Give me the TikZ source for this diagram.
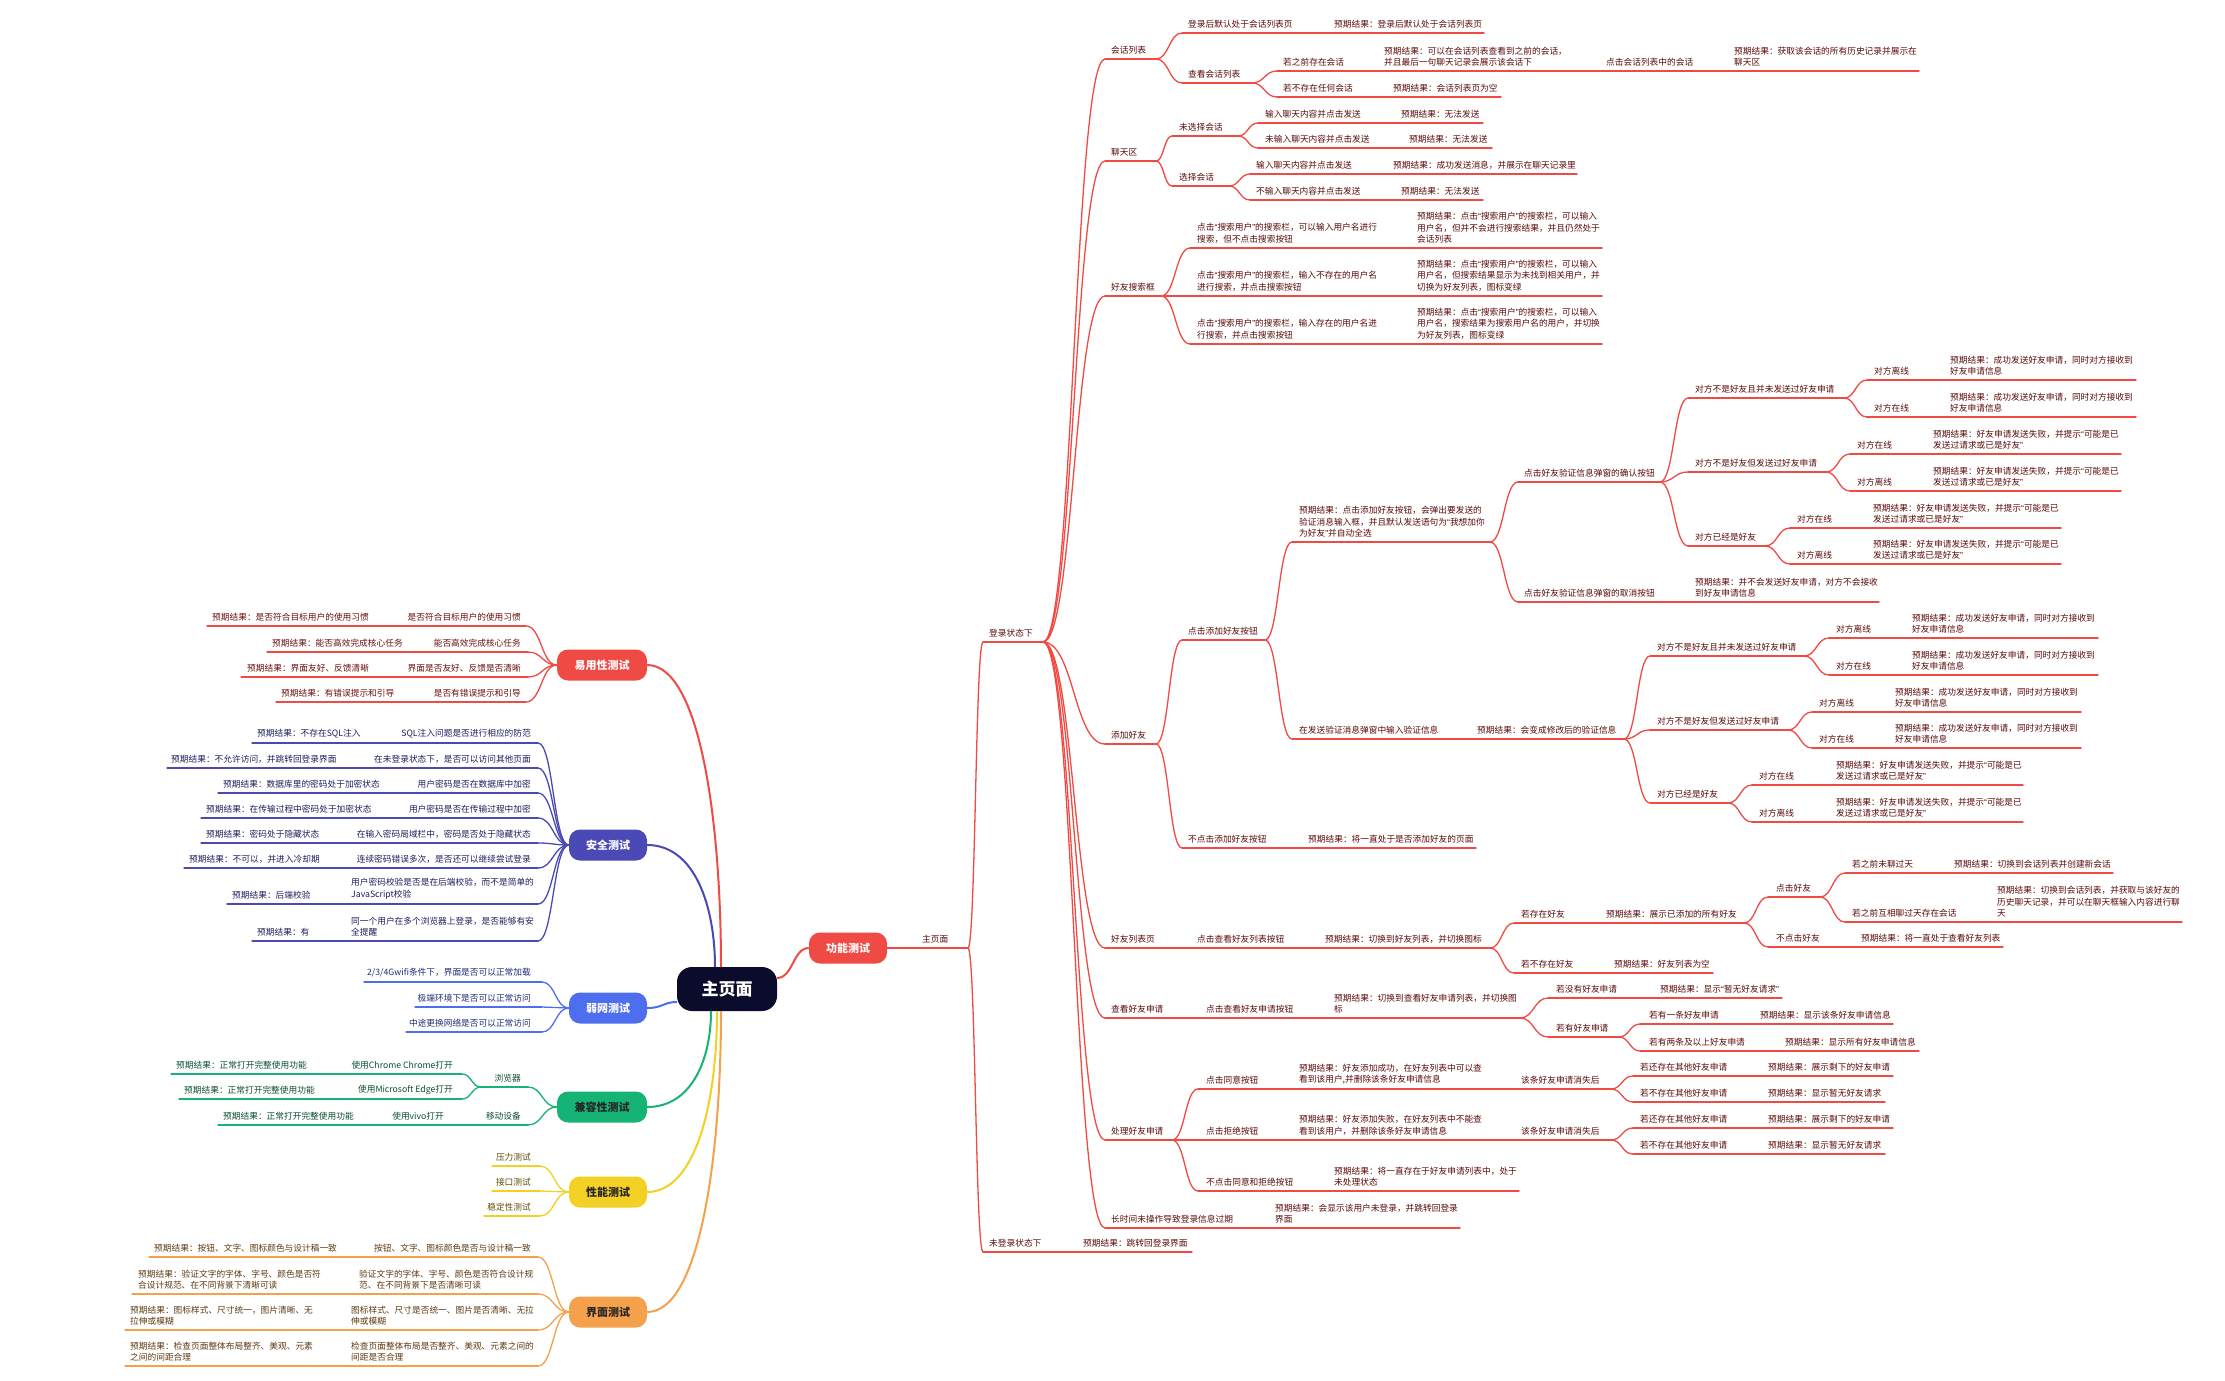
\documentclass[tikz,border=0pt]{standalone}
\usepackage{fontspec}
\setmainfont{Noto Sans CJK SC}
\newfontfamily\qfont{Liberation Sans}
\newcommand\qL{{\qfont “}}
\newcommand\qR{{\qfont ”}}
\usetikzlibrary{calc}
\definecolor{fred}{HTML}{F04A44}
\definecolor{rtext}{HTML}{5C0A0A}
\definecolor{utext}{HTML}{6B0F0F}
\definecolor{sline}{HTML}{4A49B5}
\definecolor{stext}{HTML}{1E1E5E}
\definecolor{wline}{HTML}{4E6EF0}
\definecolor{wtext}{HTML}{1F2E75}
\definecolor{cline}{HTML}{15B474}
\definecolor{ctext}{HTML}{0B4F30}
\definecolor{pline}{HTML}{F2D024}
\definecolor{ptext}{HTML}{5E4E08}
\definecolor{iline}{HTML}{F5A04B}
\definecolor{itext}{HTML}{5E3A12}
\definecolor{mainbg}{HTML}{0B0B2B}
\colorlet{lc}{fred}\colorlet{tc}{rtext}
\tikzset{
  ln/.style={draw=lc, line width=1.3pt, line cap=round},
  tx/.style={anchor=south west, inner sep=0pt, yshift=4.5pt, text=tc, align=left,
    font=\fontsize{8.7pt}{11.5pt}\selectfont},
  txr/.style={tx, anchor=south east, align=right},
  topic/.style={rounded corners=11pt, minimum height=31pt, inner sep=0pt,
    font=\bfseries\fontsize{11pt}{13pt}\selectfont},
}
\newcommand\mmLine[4]{\coordinate (#1-s) at (#2,#4); \coordinate (#1-e) at (#3,#4); \draw[ln] (#1-s) -- (#1-e);}
\newcommand\mmText[4]{\node[tx] (#1) at (#2,#3) {#4};}
\newcommand\mmTextR[4]{\node[txr] (#1) at (#2,#3) {#4};}
\newcommand\mmRow[8]{\mmLine{#1}{#2}{#3}{#4}\mmText{#1-a}{#5}{#4}{#6}\mmText{#1-b}{#7}{#4}{#8}}
\newcommand\mmCurve[2]{\draw[ln] let \p1=(#1),\p2=(#2) in (\p1) .. controls ({0.5*\x1+0.5*\x2},\y1) and ({0.5*\x1+0.5*\x2},\y2) .. (\p2);}
\newcommand\mmMain[3]{\draw[draw=#3,line width=2pt] let \p1=(#1),\p2=(#2) in (\p1) .. controls ({0.3*\x1+0.7*\x2},\y1) and (\x2,{0.5*\y1+0.5*\y2}) .. (\p2);}
\begin{document}
\begin{tikzpicture}[x=1pt,y=-1pt]
\fill[white] (0,0) rectangle (2225,1381);
\useasboundingbox (0,0) rectangle (2225,1381);

% ---------- topic boxes ----------
\node[rounded corners=15pt,fill=mainbg,text=white,minimum width=100pt,minimum height=44pt,inner sep=0pt,font=\bfseries\fontsize{17pt}{19pt}\selectfont] (main) at (727,989) {主页面};
\node[topic,fill=fred,text=white,minimum width=90pt] (usab) at (602,665) {易用性测试};
\node[topic,fill=sline,text=white,minimum width=78pt] (sec) at (608,845) {安全测试};
\node[topic,fill=wline,text=white,minimum width=78pt] (weak) at (608,1008) {弱网测试};
\node[topic,fill=cline,text=black!85,minimum width=90pt] (comp) at (602,1107) {兼容性测试};
\node[topic,fill=pline,text=black!85,minimum width=78pt] (perf) at (608,1192) {性能测试};
\node[topic,fill=iline,text=black!85,minimum width=78pt] (ui) at (608,1312) {界面测试};
\node[topic,fill=fred,text=white,minimum width=78pt] (func) at (848,948) {功能测试};

% ---------- main connectors ----------
\coordinate (mu) at (721,967);
\coordinate (ms) at (715,967);
\coordinate (mw) at (677,1002);
\coordinate (mc) at (711,1011);
\coordinate (mp) at (717,1011);
\coordinate (mi) at (721,1011);
\coordinate (mr) at (777,978);
\mmMain{usab.east}{mu}{fred}
\mmMain{sec.east}{ms}{sline}
\mmMain{comp.east}{mc}{cline}
\mmMain{perf.east}{mp}{pline}
\mmMain{ui.east}{mi}{iline}
\draw[draw=wline,line width=2pt] (weak.east) .. controls (663,1008) and (663,1002) .. (mw);
\draw[draw=fred,line width=2pt] (mr) .. controls (793,978) and (793,948) .. (func.west);

% ---------- 功能测试 ----------
\colorlet{lc}{fred}\colorlet{tc}{rtext}
\coordinate (zye) at (968,948);
\draw[ln] (func.east) -- (zye);
\mmText{zyt}{922}{948}{主页面}
\mmLine{dl}{983}{1043}{642}\mmText{dlt}{989}{642}{登录状态下}\mmCurve{zye}{dl-s}
\mmRow{wdl}{983}{1192}{1252}{989}{未登录状态下}{1083}{预期结果：跳转回登录界面}\mmCurve{zye}{wdl-s}

% 会话列表
\mmLine{A}{1105}{1156}{59}\mmText{At}{1111}{59}{会话列表}\mmCurve{dl-e}{A-s}
\mmRow{Aa}{1182}{1484}{33}{1188}{登录后默认处于会话列表页}{1334}{预期结果：登录后默认处于会话列表页}\mmCurve{A-e}{Aa-s}
\mmLine{Ab}{1182}{1252}{83}\mmText{Abt}{1188}{83}{查看会话列表}\mmCurve{A-e}{Ab-s}
\mmRow{Aba}{1277}{1919}{71}{1283}{若之前存在会话}{1384}{预期结果：可以在会话列表查看到之前的会话，\\并且最后一句聊天记录会展示该会话下}
\mmText{Aba-c}{1606}{71}{点击会话列表中的会话}
\mmText{Aba-d}{1734}{71}{预期结果：获取该会话的所有历史记录并展示在\\聊天区}\mmCurve{Ab-e}{Aba-s}
\mmRow{Abb}{1277}{1501}{97}{1283}{若不存在任何会话}{1393}{预期结果：会话列表页为空}\mmCurve{Ab-e}{Abb-s}

% 聊天区
\mmLine{B}{1105}{1156}{161}\mmText{Bt}{1111}{161}{聊天区}\mmCurve{dl-e}{B-s}
\mmLine{Ba}{1172}{1238}{136}\mmText{Bat}{1179}{136}{未选择会话}\mmCurve{B-e}{Ba-s}
\mmRow{Baa}{1258}{1483}{123}{1265}{输入聊天内容并点击发送}{1401}{预期结果：无法发送}\mmCurve{Ba-e}{Baa-s}
\mmRow{Bab}{1258}{1492}{148}{1265}{未输入聊天内容并点击发送}{1409}{预期结果：无法发送}\mmCurve{Ba-e}{Bab-s}
\mmLine{Bb}{1172}{1229}{186}\mmText{Bbt}{1179}{186}{选择会话}\mmCurve{B-e}{Bb-s}
\mmRow{Bba}{1250}{1577}{174}{1256}{输入聊天内容并点击发送}{1393}{预期结果：成功发送消息，并展示在聊天记录里}\mmCurve{Bb-e}{Bba-s}
\mmRow{Bbb}{1250}{1483}{200}{1256}{不输入聊天内容并点击发送}{1401}{预期结果：无法发送}\mmCurve{Bb-e}{Bbb-s}

% 好友搜索框
\mmLine{C}{1105}{1161}{296}\mmText{Ct}{1111}{296}{好友搜索框}\mmCurve{dl-e}{C-s}
\mmRow{Ca}{1190}{1602}{248}{1197}{点击\qL 搜索用户\qR 的搜索栏，可以输入用户名进行\\搜索，但不点击搜索按钮}{1417}{预期结果：点击\qL 搜索用户\qR 的搜索栏，可以输入\\用户名，但并不会进行搜索结果，并且仍然处于\\会话列表}\mmCurve{C-e}{Ca-s}
\mmRow{Cb}{1161}{1602}{296}{1197}{点击\qL 搜索用户\qR 的搜索栏，输入不存在的用户名\\进行搜索，并点击搜索按钮}{1417}{预期结果：点击\qL 搜索用户\qR 的搜索栏，可以输入\\用户名，但搜索结果显示为未找到相关用户，并\\切换为好友列表，图标变绿}
\mmRow{Cc}{1190}{1602}{344}{1197}{点击\qL 搜索用户\qR 的搜索栏，输入存在的用户名进\\行搜索，并点击搜索按钮}{1417}{预期结果：点击\qL 搜索用户\qR 的搜索栏，可以输入\\用户名，搜索结果为搜索用户名的用户，并切换\\为好友列表，图标变绿}\mmCurve{C-e}{Cc-s}

% 添加好友
\mmLine{D}{1105}{1156}{744}\mmText{Dt}{1111}{744}{添加好友}\mmCurve{dl-e}{D-s}
\mmLine{Da}{1182}{1265}{640}\mmText{Dat}{1188}{640}{点击添加好友按钮}\mmCurve{D-e}{Da-s}
\mmLine{Daa}{1292}{1490}{542}\mmText{Daat}{1299}{542}{预期结果：点击添加好友按钮，会弹出要发送的\\验证消息输入框，并且默认发送语句为\qL 我想加你\\为好友\qR 并自动全选}\mmCurve{Da-e}{Daa-s}
\mmLine{Daaa}{1518}{1660}{482}\mmText{Daaat}{1524}{482}{点击好友验证信息弹窗的确认按钮}\mmCurve{Daa-e}{Daaa-s}
\mmLine{K1}{1688}{1844}{398}\mmText{K1t}{1695}{398}{对方不是好友且并未发送过好友申请}\mmCurve{Daaa-e}{K1-s}
\mmRow{K1a}{1867}{2136}{380}{1874}{对方离线}{1950}{预期结果：成功发送好友申请，同时对方接收到\\好友申请信息}\mmCurve{K1-e}{K1a-s}
\mmRow{K1b}{1867}{2136}{417}{1874}{对方在线}{1950}{预期结果：成功发送好友申请，同时对方接收到\\好友申请信息}\mmCurve{K1-e}{K1b-s}
\mmLine{K2}{1688}{1826}{472}\mmText{K2t}{1695}{472}{对方不是好友但发送过好友申请}\mmCurve{Daaa-e}{K2-s}
\mmRow{K2a}{1850}{2121}{454}{1857}{对方在线}{1933}{预期结果：好友申请发送失败，并提示\qL 可能是已\\发送过请求或已是好友\qR}\mmCurve{K2-e}{K2a-s}
\mmRow{K2b}{1850}{2121}{491}{1857}{对方离线}{1933}{预期结果：好友申请发送失败，并提示\qL 可能是已\\发送过请求或已是好友\qR}\mmCurve{K2-e}{K2b-s}
\mmLine{K3}{1688}{1765}{546}\mmText{K3t}{1695}{546}{对方已经是好友}\mmCurve{Daaa-e}{K3-s}
\mmRow{K3a}{1790}{2061}{528}{1797}{对方在线}{1873}{预期结果：好友申请发送失败，并提示\qL 可能是已\\发送过请求或已是好友\qR}\mmCurve{K3-e}{K3a-s}
\mmRow{K3b}{1790}{2061}{564}{1797}{对方离线}{1873}{预期结果：好友申请发送失败，并提示\qL 可能是已\\发送过请求或已是好友\qR}\mmCurve{K3-e}{K3b-s}
\mmRow{Dab}{1518}{1879}{602}{1524}{点击好友验证信息弹窗的取消按钮}{1695}{预期结果：并不会发送好友申请，对方不会接收\\到好友申请信息}\mmCurve{Daa-e}{Dab-s}
\mmRow{Db}{1292}{1624}{739}{1299}{在发送验证消息弹窗中输入验证信息}{1477}{预期结果：会变成修改后的验证信息}\mmCurve{Da-e}{Db-s}
\mmLine{M1}{1650}{1804}{656}\mmText{M1t}{1657}{656}{对方不是好友且并未发送过好友申请}\mmCurve{Db-e}{M1-s}
\mmRow{M1a}{1829}{2098}{638}{1836}{对方离线}{1912}{预期结果：成功发送好友申请，同时对方接收到\\好友申请信息}\mmCurve{M1-e}{M1a-s}
\mmRow{M1b}{1829}{2098}{675}{1836}{对方在线}{1912}{预期结果：成功发送好友申请，同时对方接收到\\好友申请信息}\mmCurve{M1-e}{M1b-s}
\mmLine{M2}{1650}{1788}{730}\mmText{M2t}{1657}{730}{对方不是好友但发送过好友申请}\mmCurve{Db-e}{M2-s}
\mmRow{M2a}{1812}{2081}{712}{1819}{对方离线}{1895}{预期结果：成功发送好友申请，同时对方接收到\\好友申请信息}\mmCurve{M2-e}{M2a-s}
\mmRow{M2b}{1812}{2081}{748}{1819}{对方在线}{1895}{预期结果：成功发送好友申请，同时对方接收到\\好友申请信息}\mmCurve{M2-e}{M2b-s}
\mmLine{M3}{1650}{1728}{803}\mmText{M3t}{1657}{803}{对方已经是好友}\mmCurve{Db-e}{M3-s}
\mmRow{M3a}{1752}{2023}{785}{1759}{对方在线}{1836}{预期结果：好友申请发送失败，并提示\qL 可能是已\\发送过请求或已是好友\qR}\mmCurve{M3-e}{M3a-s}
\mmRow{M3b}{1752}{2023}{822}{1759}{对方离线}{1836}{预期结果：好友申请发送失败，并提示\qL 可能是已\\发送过请求或已是好友\qR}\mmCurve{M3-e}{M3b-s}
\mmRow{Dc}{1182}{1476}{848}{1188}{不点击添加好友按钮}{1308}{预期结果：将一直处于是否添加好友的页面}\mmCurve{D-e}{Dc-s}

% 好友列表页
\mmLine{E}{1105}{1490}{948}\mmText{Et}{1111}{948}{好友列表页}\mmText{Et2}{1197}{948}{点击查看好友列表按钮}\mmText{Et3}{1325}{948}{预期结果：切换到好友列表，并切换图标}\mmCurve{dl-e}{E-s}
\mmRow{Ea}{1514}{1744}{923}{1521}{若存在好友}{1606}{预期结果：展示已添加的所有好友}\mmCurve{E-e}{Ea-s}
\mmLine{Eaa}{1768}{1820}{897}\mmText{Eaat}{1776}{897}{点击好友}\mmCurve{Ea-e}{Eaa-s}
\mmRow{Eaaa}{1845}{2113}{873}{1852}{若之前未聊过天}{1954}{预期结果：切换到会话列表并创建新会话}\mmCurve{Eaa-e}{Eaaa-s}
\mmRow{Eaab}{1845}{2182}{922}{1852}{若之前互相聊过天存在会话}{1997}{预期结果：切换到会话列表，并获取与该好友的\\历史聊天记录，并可以在聊天框输入内容进行聊\\天}\mmCurve{Eaa-e}{Eaab-s}
\mmRow{Eab}{1768}{2003}{947}{1776}{不点击好友}{1861}{预期结果：将一直处于查看好友列表}\mmCurve{Ea-e}{Eab-s}
\mmRow{Eb}{1514}{1713}{973}{1521}{若不存在好友}{1614}{预期结果：好友列表为空}\mmCurve{E-e}{Eb-s}

% 查看好友申请
\mmLine{F}{1105}{1520}{1018}\mmText{Ft}{1111}{1018}{查看好友申请}\mmText{Ft2}{1206}{1018}{点击查看好友申请按钮}\mmText{Ft3}{1334}{1018}{预期结果：切换到查看好友申请列表，并切换图\\标}\mmCurve{dl-e}{F-s}
\mmRow{Fa}{1548}{1782}{998}{1556}{若没有好友申请}{1660}{预期结果：显示\qL 暂无好友请求\qR}\mmCurve{F-e}{Fa-s}
\mmLine{Fb}{1548}{1619}{1037}\mmText{Fbt}{1556}{1037}{若有好友申请}\mmCurve{F-e}{Fb-s}
\mmRow{Fba}{1640}{1893}{1024}{1649}{若有一条好友申请}{1760}{预期结果：显示该条好友申请信息}\mmCurve{Fb-e}{Fba-s}
\mmRow{Fbb}{1640}{1919}{1051}{1649}{若有两条及以上好友申请}{1785}{预期结果：显示所有好友申请信息}\mmCurve{Fb-e}{Fbb-s}

% 处理好友申请
\mmLine{G}{1105}{1611}{1140}\mmText{Gt}{1111}{1140}{处理好友申请}\mmText{Gt2}{1206}{1140}{点击拒绝按钮}\mmText{Gt3}{1299}{1140}{预期结果：好友添加失败，在好友列表中不能查\\看到该用户，并删除该条好友申请信息}\mmText{Gt4}{1521}{1140}{该条好友申请消失后}\mmCurve{dl-e}{G-s}
\coordinate (Gb) at (1172,1140);
\mmRow{Ga}{1198}{1611}{1089}{1206}{点击同意按钮}{1299}{预期结果：好友添加成功，在好友列表中可以查\\看到该用户,并删除该条好友申请信息}\mmText{Ga-c}{1521}{1089}{该条好友申请消失后}\mmCurve{Gb}{Ga-s}
\mmRow{Gaa}{1633}{1893}{1076}{1640}{若还存在其他好友申请}{1768}{预期结果：展示剩下的好友申请}\mmCurve{Ga-e}{Gaa-s}
\mmRow{Gab}{1633}{1885}{1102}{1640}{若不存在其他好友申请}{1768}{预期结果：显示暂无好友请求}\mmCurve{Ga-e}{Gab-s}
\mmRow{Gba}{1633}{1893}{1128}{1640}{若还存在其他好友申请}{1768}{预期结果：展示剩下的好友申请}\mmCurve{G-e}{Gba-s}
\mmRow{Gbb}{1633}{1885}{1154}{1640}{若不存在其他好友申请}{1768}{预期结果：显示暂无好友请求}\mmCurve{G-e}{Gbb-s}
\mmRow{Gc}{1198}{1519}{1191}{1206}{不点击同意和拒绝按钮}{1334}{预期结果：将一直存在于好友申请列表中，处于\\未处理状态}\mmCurve{Gb}{Gc-s}

% 长时间未操作
\mmRow{H}{1105}{1460}{1228}{1111}{长时间未操作导致登录信息过期}{1275}{预期结果：会显示该用户未登录，并跳转回登录\\界面}\mmCurve{dl-e}{H-s}

% ---------- 易用性测试 ----------
\colorlet{lc}{fred}\colorlet{tc}{utext}
\mmLine{U1}{207}{526}{626}\mmText{U1a}{212}{626}{预期结果：是否符合目标用户的使用习惯}\mmTextR{U1b}{521}{626}{是否符合目标用户的使用习惯}\mmCurve{U1-e}{usab.west}
\mmLine{U2}{267}{528}{652}\mmText{U2a}{272}{652}{预期结果：能否高效完成核心任务}\mmTextR{U2b}{521}{652}{能否高效完成核心任务}\mmCurve{U2-e}{usab.west}
\mmLine{U3}{241}{528}{677}\mmText{U3a}{247}{677}{预期结果：界面友好、反馈清晰}\mmTextR{U3b}{521}{677}{界面是否友好、反馈是否清晰}\mmCurve{U3-e}{usab.west}
\mmLine{U4}{276}{526}{702}\mmText{U4a}{281}{702}{预期结果：有错误提示和引导}\mmTextR{U4b}{521}{702}{是否有错误提示和引导}\mmCurve{U4-e}{usab.west}

% ---------- 安全测试 ----------
\colorlet{lc}{sline}\colorlet{tc}{stext}
\mmLine{S1}{252}{538}{743}\mmText{S1a}{257}{743}{预期结果：不存在SQL注入}\mmTextR{S1b}{531}{743}{SQL注入问题是否进行相应的防范}\mmCurve{S1-e}{sec.west}
\mmLine{S2}{167}{538}{768}\mmText{S2a}{171}{768}{预期结果：不允许访问，并跳转回登录界面}\mmTextR{S2b}{531}{768}{在未登录状态下，是否可以访问其他页面}\mmCurve{S2-e}{sec.west}
\mmLine{S3}{218}{538}{793}\mmText{S3a}{223}{793}{预期结果：数据库里的密码处于加密状态}\mmTextR{S3b}{531}{793}{用户密码是否在数据库中加密}\mmCurve{S3-e}{sec.west}
\mmLine{S4}{201}{538}{818}\mmText{S4a}{206}{818}{预期结果：在传输过程中密码处于加密状态}\mmTextR{S4b}{531}{818}{用户密码是否在传输过程中加密}\mmCurve{S4-e}{sec.west}
\mmLine{S5}{201}{538}{843}\mmText{S5a}{206}{843}{预期结果：密码处于隐藏状态}\mmTextR{S5b}{531}{843}{在输入密码局域栏中，密码是否处于隐藏状态}\mmCurve{S5-e}{sec.west}
\mmLine{S6}{184}{538}{868}\mmText{S6a}{189}{868}{预期结果：不可以，并进入冷却期}\mmTextR{S6b}{531}{868}{连续密码错误多次，是否还可以继续尝试登录}\mmCurve{S6-e}{sec.west}
\mmLine{S7}{227}{538}{904}\mmText{S7a}{232}{904}{预期结果：后端校验}\mmText{S7b}{351}{904}{用户密码校验是否是在后端校验，而不是简单的\\JavaScript校验}\mmCurve{S7-e}{sec.west}
\mmLine{S8}{252}{538}{941}\mmText{S8a}{257}{941}{预期结果：有}\mmText{S8b}{351}{941}{同一个用户在多个浏览器上登录，是否能够有安\\全提醒}\mmCurve{S8-e}{sec.west}

% ---------- 弱网测试 ----------
\colorlet{lc}{wline}\colorlet{tc}{wtext}
\mmLine{W1}{364}{542}{982}\mmTextR{W1b}{531}{982}{2/3/4Gwifi条件下，界面是否可以正常加载}\mmCurve{W1-e}{weak.west}
\mmLine{W2}{415}{542}{1007}\mmTextR{W2b}{531}{1007}{极端环境下是否可以正常访问}\mmCurve{W2-e}{weak.west}
\mmLine{W3}{406}{542}{1032}\mmTextR{W3b}{531}{1032}{中途更换网络是否可以正常访问}\mmCurve{W3-e}{weak.west}

% ---------- 兼容性测试 ----------
\colorlet{lc}{cline}\colorlet{tc}{ctext}
\mmLine{Cb1}{481}{528}{1087}\mmTextR{Cb1t}{521}{1087}{浏览器}\mmCurve{Cb1-e}{comp.west}
\mmLine{Cr1}{171}{462}{1074}\mmText{Cr1a}{176}{1074}{预期结果：正常打开完整使用功能}\mmTextR{Cr1b}{453}{1074}{使用Chrome Chrome打开}\mmCurve{Cr1-e}{Cb1-s}
\mmLine{Cr2}{179}{462}{1099}\mmText{Cr2a}{184}{1099}{预期结果：正常打开完整使用功能}\mmTextR{Cr2b}{453}{1099}{使用Microsoft Edge打开}\mmCurve{Cr2-e}{Cb1-s}
\mmLine{Cm1}{218}{528}{1125}\mmText{Cm1a}{223}{1125}{预期结果：正常打开完整使用功能}\mmTextR{Cm1b}{444}{1125}{使用vivo打开}\mmTextR{Cm1c}{521}{1125}{移动设备}\mmCurve{Cm1-e}{comp.west}

% ---------- 性能测试 ----------
\colorlet{lc}{pline}\colorlet{tc}{ptext}
\mmLine{P1}{492}{540}{1166}\mmTextR{P1t}{531}{1166}{压力测试}\mmCurve{P1-e}{perf.west}
\mmLine{P2}{492}{540}{1191}\mmTextR{P2t}{531}{1191}{接口测试}\mmCurve{P2-e}{perf.west}
\mmLine{P3}{484}{540}{1216}\mmTextR{P3t}{531}{1216}{稳定性测试}\mmCurve{P3-e}{perf.west}

% ---------- 界面测试 ----------
\colorlet{lc}{iline}\colorlet{tc}{itext}
\mmLine{I1}{149}{538}{1257}\mmText{I1a}{154}{1257}{预期结果：按钮、文字、图标颜色与设计稿一致}\mmTextR{I1b}{531}{1257}{按钮、文字、图标颜色是否与设计稿一致}\mmCurve{I1-e}{ui.west}
\mmLine{I2}{132}{538}{1294}\mmText{I2a}{138}{1294}{预期结果：验证文字的字体、字号、颜色是否符\\合设计规范、在不同背景下清晰可读}\mmText{I2b}{359}{1294}{验证文字的字体、字号、颜色是否符合设计规\\范、在不同背景下是否清晰可读}\mmCurve{I2-e}{ui.west}
\mmLine{I3}{125}{538}{1330}\mmText{I3a}{130}{1330}{预期结果：图标样式、尺寸统一，图片清晰、无\\拉伸或模糊}\mmText{I3b}{351}{1330}{图标样式、尺寸是否统一、图片是否清晰、无拉\\伸或模糊}\mmCurve{I3-e}{ui.west}
\mmLine{I4}{125}{538}{1366}\mmText{I4a}{130}{1366}{预期结果：检查页面整体布局整齐、美观、元素\\之间的间距合理}\mmText{I4b}{351}{1366}{检查页面整体布局是否整齐、美观、元素之间的\\间距是否合理}\mmCurve{I4-e}{ui.west}
\end{tikzpicture}
\end{document}
